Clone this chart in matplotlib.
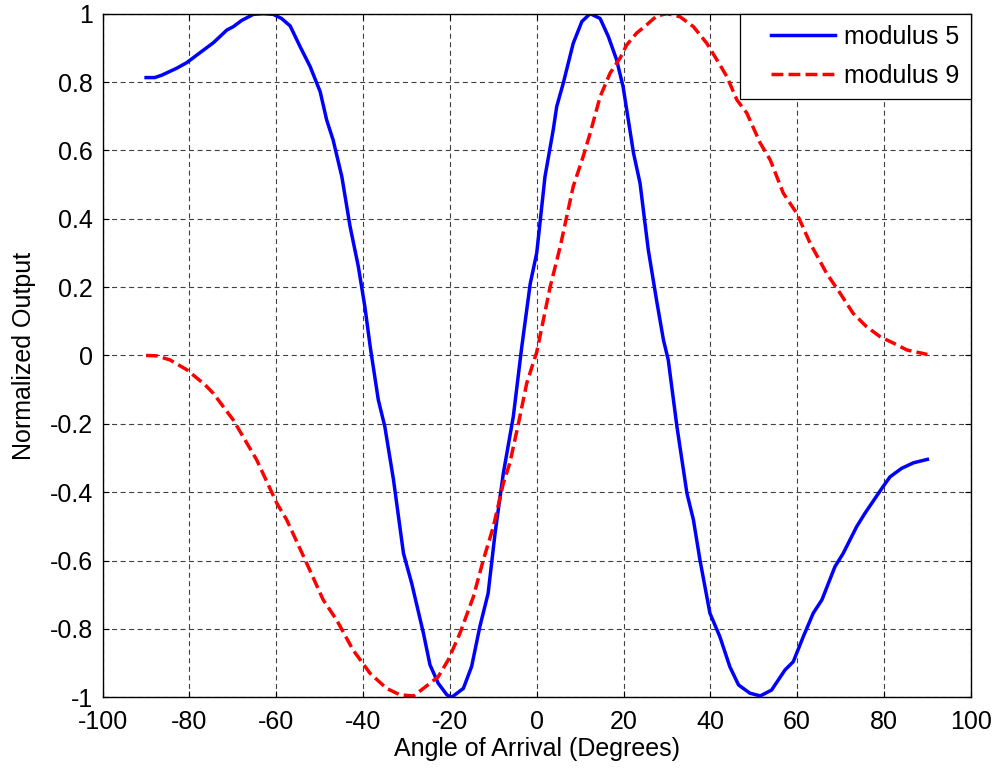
import matplotlib
matplotlib.use("Agg")
import matplotlib.pyplot as plt
from matplotlib.legend_handler import HandlerLine2D

plt.rcParams['font.family'] = ['Liberation Sans', 'DejaVu Sans']

# ---- data ----
angle_mod5 = [-90, -88, -86.4, -83, -80.6, -78.3, -74.5, -71.4, -69.9, -68, -65.3, -63, -60.7,
              -58.8, -56.8, -54.5, -52.2, -49.9, -48.4, -46.9, -44.9, -43, -41.1, -39.6, -38.3,
              -36.5, -35, -33, -30.7, -28.8, -26.1, -24.6, -22.7, -20.7, -19.6, -16.9, -15,
              -13.1, -11.2, -9.6, -7.7, -5.4, -3.5, -1.5, 0, 1.9, 3.8, 4.6, 6.1, 8.4, 10.4,
              12.3, 14.6, 16.5, 18.4, 19.9, 22.3, 23.8, 25.7, 27.6, 29.2, 30.3, 32.3, 34.6,
              36.1, 37.6, 39.9, 42.2, 44.5, 46.5, 49.1, 51.5, 54.1, 57.2, 59.1, 61.4, 63.7,
              65.7, 68.7, 70.6, 73.7, 75.6, 79.5, 81.4, 84.1, 86.8, 90]
out_mod5 = [0.813, 0.813, 0.82, 0.84, 0.857, 0.879, 0.915, 0.952, 0.962, 0.98, 0.998, 1.0, 0.998,
            0.986, 0.964, 0.903, 0.845, 0.772, 0.689, 0.63, 0.523, 0.377, 0.26, 0.143, 0.02,
            -0.13, -0.208, -0.364, -0.579, -0.667, -0.813, -0.905, -0.959, -0.993, -1.0, -0.974,
            -0.91, -0.793, -0.696, -0.52, -0.345, -0.179, 0.02, 0.21, 0.3, 0.523, 0.66, 0.728,
            0.796, 0.913, 0.977, 1.0, 0.986, 0.933, 0.865, 0.786, 0.592, 0.504, 0.309, 0.162,
            0.045, -0.013, -0.208, -0.403, -0.481, -0.598, -0.754, -0.823, -0.911, -0.964,
            -0.988, -0.996, -0.979, -0.92, -0.896, -0.823, -0.754, -0.715, -0.618, -0.579,
            -0.501, -0.462, -0.389, -0.355, -0.33, -0.314, -0.304]

angle_mod9 = [-90, -87.6, -84.5, -80.6, -76.4, -74.5, -69.9, -64.5, -59.9, -57.6, -53, -49.2,
              -46.1, -42.3, -38.4, -34.6, -31.5, -28.4, -26.1, -22.7, -20.4, -17.7, -14.6,
              -12.3, -10, -7.7, -6.2, -4.2, -2.3, 0, 3.1, 5.4, 8.4, 10.7, 12.3, 14.6, 16.9,
              19.2, 20.7, 23, 25.3, 27.6, 30, 33, 36.1, 39.2, 41.5, 43.8, 46.1, 48.4, 51.5,
              53.8, 56.8, 59.9, 63, 66.8, 69.9, 72.9, 76, 79.1, 82.2, 85.3, 90]
out_mod9 = [0.0, -0.001, -0.013, -0.042, -0.086, -0.111, -0.189, -0.306, -0.432, -0.481, -0.608,
            -0.715, -0.774, -0.862, -0.93, -0.974, -0.993, -0.996, -0.974, -0.94, -0.891, -0.813,
            -0.706, -0.598, -0.501, -0.374, -0.315, -0.198, -0.081, 0.01, 0.201, 0.318, 0.494,
            0.582, 0.65, 0.757, 0.826, 0.87, 0.908, 0.943, 0.967, 0.993, 1.0, 0.991, 0.962,
            0.913, 0.865, 0.816, 0.748, 0.709, 0.621, 0.572, 0.475, 0.416, 0.328, 0.24, 0.182,
            0.123, 0.084, 0.055, 0.036, 0.016, 0.003]

x_ticks = [-100, -80, -60, -40, -20, 0, 20, 40, 60, 80, 100]
y_ticks = [-1, -0.8, -0.6, -0.4, -0.2, 0, 0.2, 0.4, 0.6, 0.8, 1]
y_tick_labels = ['-1', '-0.8', '-0.6', '-0.4', '-0.2', '0', '0.2', '0.4', '0.6', '0.8', '1']
series_labels = ['modulus 5', 'modulus 9']

FS = 18

fig = plt.figure(figsize=(9.97, 7.72), dpi=100)
ax = fig.add_axes([0.103, 0.0968, 0.8707, 0.8855])

l1, = ax.plot(angle_mod5, out_mod5, color=(0, 0, 1), lw=2.5, label=series_labels[0])
l2, = ax.plot(angle_mod9, out_mod9, color=(1, 0, 0), lw=2.5, dashes=(3.4, 1.5),
              label=series_labels[1])

ax.set_xlim(-100, 100)
ax.set_ylim(-1, 1)
ax.set_xticks(x_ticks)
ax.set_xticklabels([str(t) for t in x_ticks])
ax.set_yticks(y_ticks)
ax.set_yticklabels(y_tick_labels)
ax.tick_params(direction='in', length=4, width=0.8, top=True, right=True,
               labelsize=FS, colors='black')
ax.tick_params(axis='x', pad=9)
ax.tick_params(axis='y', pad=6.8)
for s in ax.spines.values():
    s.set_linewidth(1.0)
ax.grid(True, color='0.25', linestyle=(0, (4.5, 3.2)), linewidth=0.8)
ax.set_axisbelow(True)

ax.set_xlabel('Angle of Arrival (Degrees)', fontsize=FS, labelpad=2)
ax.set_ylabel('Normalized Output', fontsize=FS, labelpad=10)


class OffsetHandler(HandlerLine2D):
    def __init__(self, lpad, **kw):
        super().__init__(**kw)
        self.lpad = lpad

    def get_xdata(self, legend, xdescent, ydescent, width, height, fontsize):
        xd = [-xdescent + self.lpad * fontsize, -xdescent + width]
        return xd, [-xdescent + 0.5 * width]


leg = ax.legend(handles=[l1, l2], loc='upper right', bbox_to_anchor=(1, 1),
                borderaxespad=0, fontsize=FS, fancybox=False, framealpha=1,
                edgecolor='black', handlelength=3.35, handletextpad=0.37,
                borderpad=0.45, labelspacing=0.6,
                handler_map={l1: OffsetHandler(0.78), l2: OffsetHandler(0.78)})
leg.get_frame().set_linewidth(0.9)

fig.savefig('out.png', dpi=100)
